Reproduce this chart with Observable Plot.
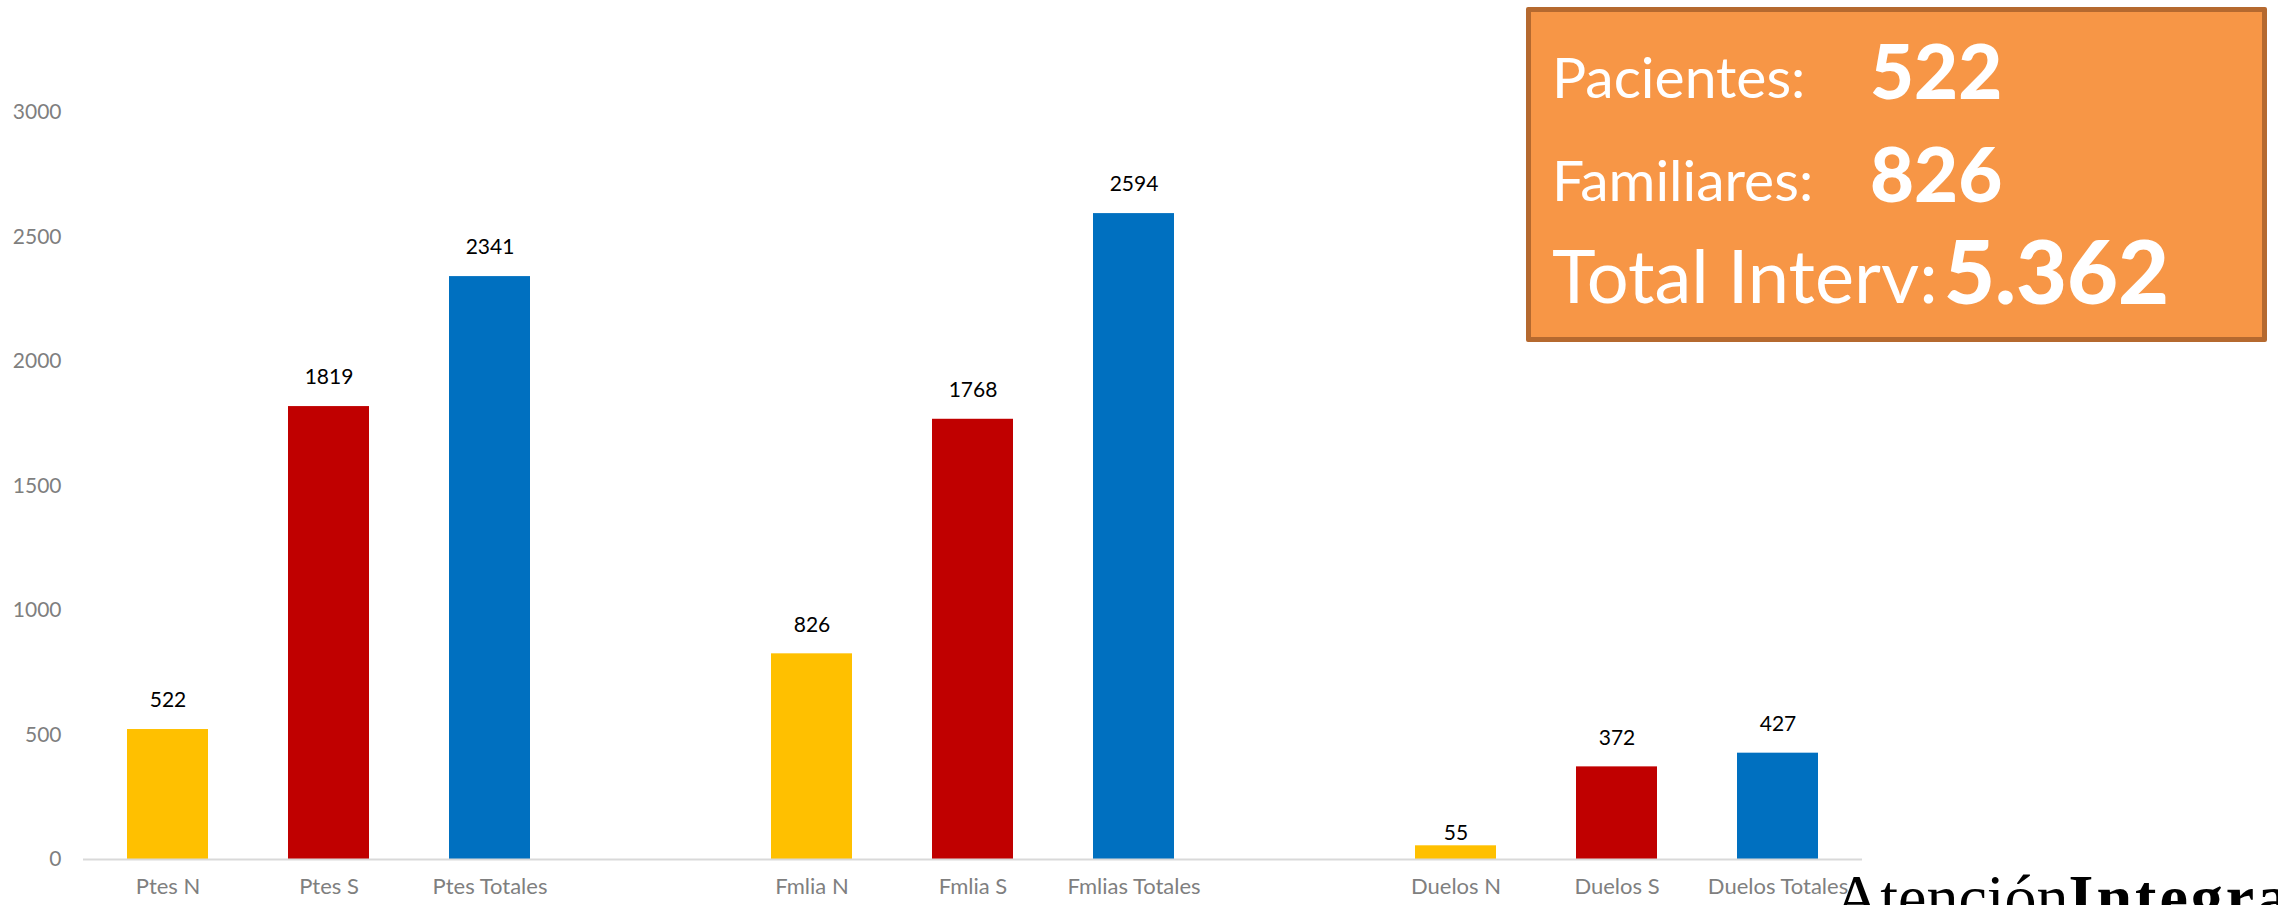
<!DOCTYPE html>
<html>
<head>
<meta charset="utf-8">
<script src="https://cdn.jsdelivr.net/npm/d3@7"></script>
<script src="https://cdn.jsdelivr.net/npm/@observablehq/plot@0.6"></script>
<style>
  html, body { margin: 0; padding: 0; background: #fff; }
  #wrap { position: relative; width: 2278px; height: 905px; overflow: hidden; font-family: Lato, "Open Sans", sans-serif; }
  #chart { position: absolute; left: 0; top: 0; }
  #box { position: absolute; left: 1526px; top: 7px; width: 731px; height: 325px;
         background: #F79646; border: 5px solid #B5692F; border-radius: 2px; color: #fff; }
  .lbl { position: absolute; white-space: nowrap; line-height: 1; }
  #logo { position: absolute; left: 1834px; top: 866px; white-space: nowrap; line-height: 1;
          font-family: "Liberation Serif", "DejaVu Serif", serif; font-size: 64px; color: #000; }
</style>
</head>
<body>
<div id="wrap">
  <div id="chart"></div>
  <div id="box"></div>
  <div id="logo"><span>Atención</span><span style="font-weight:bold; letter-spacing:3px">Integral</span></div>
</div>
<script>
// ---- data ----
const categories = ["Ptes N", "Ptes S", "Ptes Totales", "Fmlia N", "Fmlia S", "Fmlias Totales", "Duelos N", "Duelos S", "Duelos Totales"];
const values = [522, 1819, 2341, 826, 1768, 2594, 55, 372, 427];
const kinds = ["N", "S", "Totales", "N", "S", "Totales", "N", "S", "Totales"];
const gaps = ["\u2002", "\u2003"];
const yTicks = [0, 500, 1000, 1500, 2000, 2500, 3000];
const boxLabels = ["Pacientes:", "Familiares:", "Total Interv:"];
const boxValues = ["522", "826", "5.362"];

const xDomain = [
  categories[0], categories[1], categories[2], gaps[0],
  categories[3], categories[4], categories[5], gaps[1],
  categories[6], categories[7], categories[8]
];
const data = categories.map((c, i) => ({category: c, value: values[i], kind: kinds[i]}));

const chart = Plot.plot({
  width: 2278,
  height: 905,
  marginLeft: 83,
  marginRight: 416,
  marginTop: 112,
  marginBottom: 46,
  style: {fontFamily: "Lato, 'Open Sans', sans-serif", background: "transparent"},
  x: {domain: xDomain, paddingInner: 0.5, paddingOuter: 0.25, label: null},
  y: {domain: [0, 3000], label: null},
  color: {domain: ["N", "S", "Totales"], range: ["#FFC000", "#C00000", "#0070C0"]},
  marks: [
    Plot.barY(data, {x: "category", y: "value", fill: "kind"}),
    Plot.ruleY([0], {stroke: "#d9d9d9", strokeWidth: 2}),
    Plot.text(data.filter(d => d.value >= 100), {x: "category", y: "value", text: d => String(d.value), dy: -29, fontSize: 21, fill: "#000"}),
    Plot.text(data.filter(d => d.value < 100), {x: "category", y: "value", text: d => String(d.value), dy: -13, fontSize: 21, fill: "#000"}),
    Plot.axisX({tickSize: 0, tickPadding: 19, fontSize: 22, color: "#7f7f7f", tickFormat: d => gaps.includes(d) ? "" : d, label: null}),
    Plot.axisY({ticks: yTicks, tickSize: 0, tickPadding: 22, fontSize: 21, color: "#7f7f7f", tickFormat: d => String(d), label: null})
  ]
});
document.getElementById("chart").appendChild(chart);

// ---- info box ----
const box = document.getElementById("box");
const rows = [
  {label: boxLabels[0], value: boxValues[0], top: 36, lsize: 57, vsize: 76, vleft: 339, vtop: 20},
  {label: boxLabels[1], value: boxValues[1], top: 139, lsize: 57, vsize: 76, vleft: 339, vtop: 123},
  {label: boxLabels[2], value: boxValues[2], top: 226, lsize: 74, vsize: 88, vleft: 413, vtop: 214}
];
rows.forEach(r => {
  const l = document.createElement("span");
  l.className = "lbl";
  l.textContent = r.label;
  l.style.left = "21px";
  l.style.top = r.top + "px";
  l.style.fontSize = r.lsize + "px";
  l.style.fontWeight = "400";
  box.appendChild(l);
  const v = document.createElement("span");
  v.className = "lbl";
  v.textContent = r.value;
  v.style.left = r.vleft + "px";
  v.style.top = r.vtop + "px";
  v.style.fontSize = r.vsize + "px";
  v.style.fontWeight = "900";
  box.appendChild(v);
});
</script>
</body>
</html>
